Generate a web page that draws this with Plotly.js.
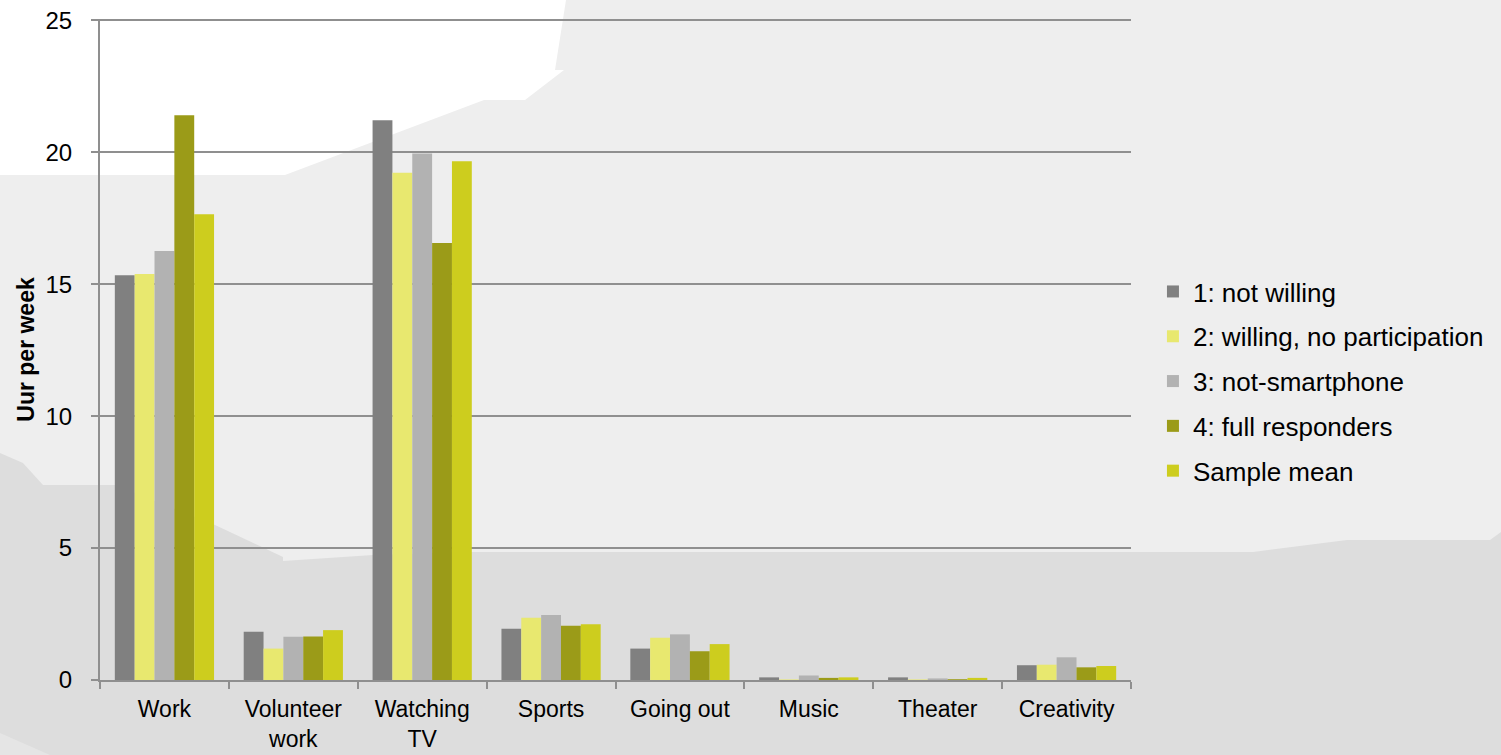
<!DOCTYPE html>
<html>
<head>
<meta charset="utf-8">
<script src="https://cdn.plot.ly/plotly-3.0.1.min.js"></script>
<style>
  html, body { margin: 0; padding: 0; width: 1501px; height: 755px; overflow: hidden; background: #dddddd; }
  #bg { position: absolute; left: 0; top: 0; }
  #chart { position: absolute; left: 0; top: 0; width: 1501px; height: 755px; }
</style>
</head>
<body>
<svg id="bg" width="1501" height="755" xmlns="http://www.w3.org/2000/svg">
  <rect x="0" y="0" width="1501" height="755" fill="#dddddd"/>
  <polygon fill="#eeeeee" points="0,0 1501,0 1501,532 1490,540 1347,540 1253,552 1100,552 472,552 373,555 283,561 283,557 215,525 115,485 43,485 23,463 0,453"/>
  <polygon fill="#ffffff" points="0,0 566,0 555,70 564,70 525,100 484,100 285,175 0,175"/>
  <polygon fill="#e5e5e5" points="0,733 50,755 0,755"/>
</svg>
<div id="chart"></div>
<script>
const categories = ['Work', 'Volunteer<br>work', 'Watching<br>TV', 'Sports', 'Going out', 'Music', 'Theater', 'Creativity'];
const seriesNames = ['1: not willing', '2: willing, no participation', '3: not-smartphone', '4: full responders', 'Sample mean'];
const notWilling     = [15.34, 1.83, 21.21, 1.94, 1.19, 0.10, 0.10, 0.56];
const willingNoPart  = [15.39, 1.19, 19.22, 2.36, 1.60, 0.02, 0.02, 0.58];
const notSmartphone  = [16.26, 1.64, 19.95, 2.46, 1.73, 0.17, 0.06, 0.86];
const fullResponders = [21.40, 1.65, 16.56, 2.06, 1.09, 0.08, 0.03, 0.48];
const sampleMean     = [17.65, 1.89, 19.66, 2.11, 1.36, 0.10, 0.08, 0.53];
const yTicks = [0, 5, 10, 15, 20, 25];

const seriesValues = [notWilling, willingNoPart, notSmartphone, fullResponders, sampleMean];
const colors = ['#808080', '#e8e86f', '#b2b2b2', '#9b9b18', '#cdcd1e'];

const font = 'Arial, "Liberation Sans", sans-serif';
const lineGrey = '#8f8f8f';

const traces = seriesValues.map((vals, i) => ({
  type: 'bar',
  name: seriesNames[i],
  x: categories,
  y: vals,
  legendgroup: 'g' + i,
  marker: { color: colors[i], line: { width: 0 } },
  hoverinfo: 'x+y+name'
}));

const layout = {
  width: 1501,
  height: 755,
  margin: { l: 100, r: 368, t: 19, b: 75 },
  paper_bgcolor: 'rgba(0,0,0,0)',
  plot_bgcolor: 'rgba(0,0,0,0)',
  barmode: 'group',
  bargap: 0.23,
  bargroupgap: 0,
  font: { family: font, color: '#000000' },
  showlegend: true,
  legend: {
    x: 1.0213, xanchor: 'left',
    y: 0.4515, yanchor: 'middle',
    bgcolor: 'rgba(0,0,0,0)',
    font: { family: font, size: 26, color: '#000000' },
    tracegroupgap: 8,
    itemclick: false
  },
  xaxis: {
    type: 'category',
    tickson: 'boundaries',
    ticks: 'outside',
    ticklen: 7,
    tickwidth: 2,
    tickcolor: lineGrey,
    ticklabelstandoff: 7,
    showline: true,
    linecolor: lineGrey,
    linewidth: 2,
    showgrid: false,
    tickfont: { family: font, size: 23, color: '#000000' },
    automargin: false
  },
  yaxis: {
    range: [0, 25.05],
    tickvals: yTicks,
    ticktext: yTicks.map(String),
    ticks: 'outside',
    ticklen: 7,
    tickwidth: 2,
    tickcolor: lineGrey,
    ticklabelstandoff: 14,
    showline: true,
    linecolor: lineGrey,
    linewidth: 2,
    showgrid: true,
    gridcolor: lineGrey,
    gridwidth: 2,
    zeroline: false,
    tickfont: { family: font, size: 24, color: '#000000' },
    title: { text: '<b>Uur per week</b>', font: { family: font, size: 23, color: '#000000' }, standoff: 4 },
    automargin: false
  }
};

Plotly.newPlot('chart', traces, layout, { displayModeBar: false, staticPlot: true });
</script>
</body>
</html>
